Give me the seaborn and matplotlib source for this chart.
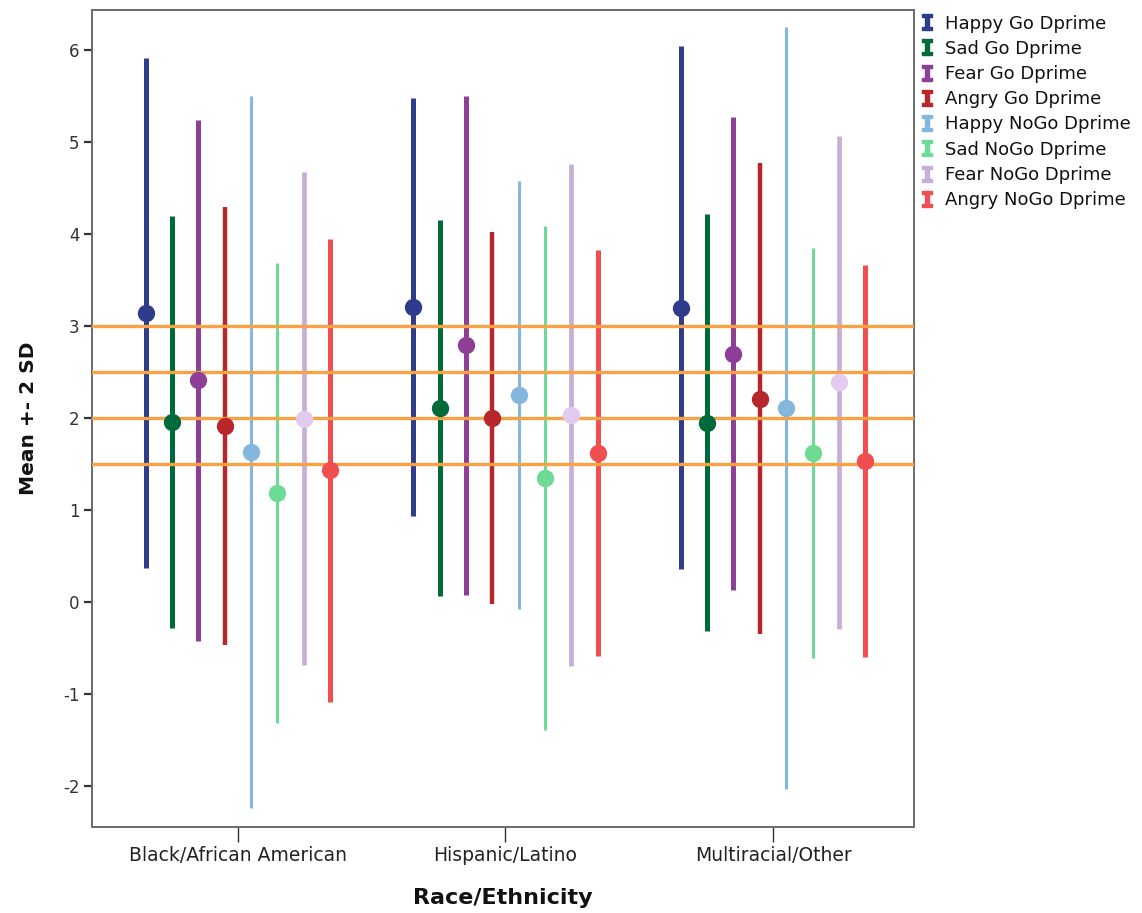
import numpy as np
import pandas as pd
import matplotlib
matplotlib.use("Agg")
import matplotlib.pyplot as plt
from matplotlib.lines import Line2D
from matplotlib.path import Path
import seaborn as sns

# Race/ethnicity groups on the x axis
groups = ["Black/African American", "Hispanic/Latino", "Multiracial/Other"]

# d-prime measures (one error bar per group)
series = ["Happy Go Dprime", "Sad Go Dprime", "Fear Go Dprime", "Angry Go Dprime",
          "Happy NoGo Dprime", "Sad NoGo Dprime", "Fear NoGo Dprime", "Angry NoGo Dprime"]

# means per series, ordered like groups
means = [
    [3.14, 3.21, 3.20],
    [1.96, 2.11, 1.95],
    [2.41, 2.79, 2.70],
    [1.91, 2.00, 2.21],
    [1.63, 2.25, 2.11],
    [1.18, 1.35, 1.62],
    [1.99, 2.03, 2.39],
    [1.43, 1.62, 1.53],
]

# standard deviations per series, ordered like groups
sds = [
    [1.385, 1.135, 1.42],
    [1.12, 1.02, 1.135],
    [1.415, 1.355, 1.285],
    [1.19, 1.01, 1.28],
    [1.935, 1.165, 2.07],
    [1.25, 1.37, 1.115],
    [1.34, 1.365, 1.34],
    [1.26, 1.105, 1.065],
]

# reference lines drawn across the plot
ref_lines = [3.0, 2.5, 2.0, 1.5]

line_colors = ["#2f3b8b", "#006a3a", "#8d3e97", "#b7262b",
               "#85b7de", "#6ddb95", "#c6afd7", "#f14e50"]
marker_colors = ["#2f3b8b", "#006a3a", "#8d3e97", "#b7262b",
                 "#85b7de", "#6ddb95", "#e3cbef", "#f14e50"]
line_widths = [3.6, 3.6, 3.6, 3.2, 2.2, 2.2, 3.4, 3.6]

# long form table: the two ends of each mean +- 2 SD interval
rows = []
for s, name in enumerate(series):
    for g, grp in enumerate(groups):
        m, sd = means[s][g], sds[s][g]
        rows.append({"group": grp, "series": name, "value": m - 2 * sd})
        rows.append({"group": grp, "series": name, "value": m + 2 * sd})
df = pd.DataFrame(rows)

sns.set_style("white")
plt.rcParams["font.family"] = ["DejaVu Sans"]
plt.rcParams["axes.unicode_minus"] = False

fig = plt.figure(figsize=(11.42, 9.13), dpi=100)
ax = fig.add_axes([0.0806, 0.0942, 0.7198, 0.8948])

sns.pointplot(data=df, x="group", y="value", hue="series", order=groups,
              hue_order=series, palette=dict(zip(series, line_colors)),
              estimator="mean", errorbar=lambda v: (v.min(), v.max()),
              dodge=0.69, linestyle="none", markers="o", markersize=12.5,
              markeredgewidth=0, err_kws={"linewidth": 3.6, "zorder": 2},
              zorder=5, legend=False, ax=ax)

# per-series line widths and marker shades
color_to_idx = {matplotlib.colors.to_hex(c): i for i, c in enumerate(line_colors)}
for ln in ax.lines:
    idx = color_to_idx.get(matplotlib.colors.to_hex(ln.get_color()))
    if idx is None:
        continue
    if len(ln.get_xdata()) == 2:
        ln.set_linewidth(line_widths[idx])
        ln.set_solid_capstyle("butt")
    else:
        ln.set_markerfacecolor(marker_colors[idx])
        ln.set_markeredgecolor(marker_colors[idx])

for y in ref_lines:
    ax.axhline(y, color="#f6a245", linewidth=2.4, zorder=3)

ax.set_xlim(-0.545, 2.527)
ax.set_ylim(-2.446, 6.435)
ax.set_yticks(range(-2, 7))
ax.set_xlabel("Race/Ethnicity", fontsize=16, fontweight="bold", labelpad=16,
              color="#111111")
ax.set_ylabel("Mean +- 2 SD", fontsize=14.5, fontweight="bold", labelpad=18,
              color="#111111")
ax.tick_params(axis="y", length=6, width=1.6, color="#333333", labelsize=12,
               labelcolor="#333333", pad=3, left=True)
ax.tick_params(axis="x", length=11, width=1.0, color="#333333", labelsize=13.5,
               labelcolor="#222222", pad=3, bottom=True)
for sp in ax.spines.values():
    sp.set_color("#6a6a6a")
    sp.set_linewidth(1.4)

# I-beam legend icons
ibeam = Path([(-0.32, 0.5), (0.32, 0.5), (0.32, 0.34), (0.13, 0.34), (0.13, -0.34),
              (0.32, -0.34), (0.32, -0.5), (-0.32, -0.5), (-0.32, -0.34), (-0.13, -0.34),
              (-0.13, 0.34), (-0.32, 0.34), (-0.32, 0.5)], closed=True)
handles = [Line2D([0], [0], marker=ibeam, linestyle="none", color=c, markersize=11)
           for c in line_colors]
fig.legend(handles, series, loc="upper left", bbox_to_anchor=(0.802, 0.988),
           frameon=False, fontsize=13, handlelength=0.8, handletextpad=0.6,
           labelspacing=0.4, borderpad=0.2, borderaxespad=0, labelcolor="#111111")

fig.savefig("out.png", dpi=100)
